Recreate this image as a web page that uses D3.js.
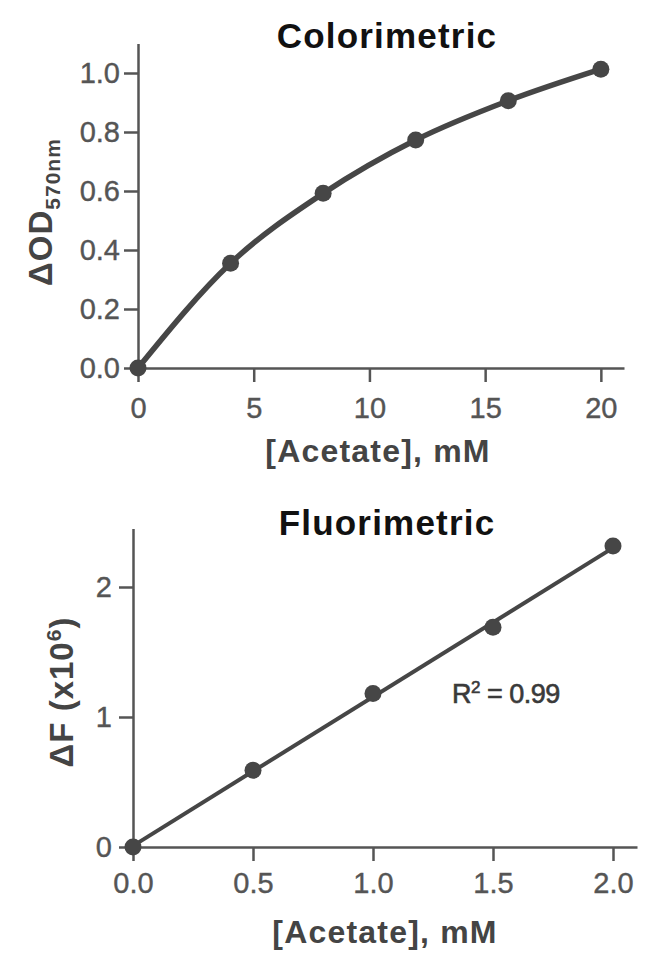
<!DOCTYPE html>
<html>
<head>
<meta charset="utf-8">
<script src="https://cdn.jsdelivr.net/npm/d3@7"></script>
<style>
  body { margin: 0; background: #fff; }
  svg { display: block; font-family: "Liberation Sans", Arial, sans-serif; }
</style>
</head>
<body>
<main></main>
<script>
// Colorimetric standard curve
let colorX = [0, 4, 8, 12, 16, 20]
let colorY = [0, 0.355, 0.592, 0.773, 0.906, 1.013]
let colorXTicks = [0, 5, 10, 15, 20]
let colorYTicks = [0, 0.2, 0.4, 0.6, 0.8, 1.0]

// Fluorimetric standard curve
let fluoroX = [0, 0.5, 1.0, 1.5, 2.0]
let fluoroY = [0, 0.59, 1.18, 1.69, 2.315]
let fluoroXTicks = [0, 0.5, 1.0, 1.5, 2.0]
let fluoroYTicks = [0, 1, 2]

let ink = '#464646'
let axisGrey = '#555'

let svg = d3.select('main').append('svg')
    .attr('width', 650)
    .attr('height', 963)

function panel(opt)
{
    let g = svg.append('g')

    let x = d3.scaleLinear().domain(opt.xDomain).range(opt.xRange)
    let y = d3.scaleLinear().domain(opt.yDomain).range(opt.yRange)

    g.append('g')
        .attr('transform', `translate(0,${y(0)})`)
        .call(d3.axisBottom(x)
            .tickValues(opt.xTicks)
            .tickFormat(opt.xFormat)
            .tickSize(14)
            .tickPadding(opt.xPad)
            .tickSizeOuter(0))

    g.append('g')
        .attr('transform', `translate(${x(0)},0)`)
        .call(d3.axisLeft(y)
            .tickValues(opt.yTicks)
            .tickFormat(opt.yFormat)
            .tickSize(14)
            .tickPadding(opt.yPad)
            .tickSizeOuter(0))

    g.selectAll('.domain, .tick line')
        .attr('stroke', axisGrey)
        .attr('stroke-width', 2.5)
    g.selectAll('.tick text')
        .attr('fill', axisGrey)
        .attr('stroke', axisGrey)
        .attr('stroke-width', 0.4)
        .style('font-size', '29px')

    // the line or fitted curve
    g.append('path')
        .datum(opt.line)
        .attr('d', d3.line().x(d => x(d[0])).y(d => y(d[1])).curve(opt.curve))
        .attr('fill', 'none')
        .attr('stroke', ink)
        .attr('stroke-width', opt.lineWidth)

    g.selectAll('circle')
        .data(opt.xs)
        .enter().append('circle')
        .attr('cx', d => x(d))
        .attr('cy', (d, i) => y(opt.ys[i]))
        .attr('r', 8.5)
        .attr('fill', ink)

    g.append('text')
        .attr('x', 387)
        .attr('y', opt.titleY)
        .attr('text-anchor', 'middle')
        .attr('fill', '#111')
        .style('font-size', '35px')
        .style('font-weight', 'bold')
        .style('letter-spacing', '1.2px')
        .text(opt.title)

    g.append('text')
        .attr('x', opt.xLabelX)
        .attr('y', opt.xLabelY)
        .attr('text-anchor', 'middle')
        .attr('fill', '#444')
        .style('font-size', '32px')
        .style('font-weight', 'bold')
        .style('letter-spacing', '1.2px')
        .text('[Acetate], mM')

    let yl = g.append('text')
        .attr('transform', `translate(${opt.yLabelX},${opt.yLabelY}) rotate(-90)`)
        .attr('text-anchor', 'middle')
        .attr('fill', '#444')
        .style('font-size', '33px')
        .style('font-weight', 'bold')
        .style('letter-spacing', '1px')
    opt.yLabel(yl)

    return { g: g, x: x, y: y }
}

// top: smooth curve through the standards
panel({
    xDomain: [0, 21], xRange: [138, 624],
    yDomain: [0, 1.1], yRange: [368, 43.5],
    xTicks: colorXTicks, yTicks: colorYTicks,
    xFormat: d3.format('d'), yFormat: d3.format('.1f'),
    xPad: 15, yPad: 4,
    xs: colorX, ys: colorY,
    line: colorX.map((d, i) => [d, colorY[i]]),
    curve: d3.curveMonotoneX,
    lineWidth: 5.5,
    title: 'Colorimetric', titleY: 48,
    xLabelX: 378, xLabelY: 462,
    yLabelX: 52, yLabelY: 212,
    yLabel: t => {
        t.append('tspan').text('ΔOD')
        t.append('tspan').attr('dy', 8).style('font-size', '21px').text('570nm')
    }
})

// bottom: least squares line
let mx = d3.mean(fluoroX)
let my = d3.mean(fluoroY)
let slope = d3.sum(fluoroX, (d, i) => (d - mx) * (fluoroY[i] - my)) / d3.sum(fluoroX, d => (d - mx) * (d - mx))
let icpt = my - slope * mx
let xEnds = d3.extent(fluoroX)

let bottom = panel({
    xDomain: [0, 2.1], xRange: [133, 637],
    yDomain: [0, 2.45], yRange: [847, 528.5],
    xTicks: fluoroXTicks, yTicks: fluoroYTicks,
    xFormat: d3.format('.1f'), yFormat: d3.format('d'),
    xPad: 11, yPad: 7,
    xs: fluoroX, ys: fluoroY,
    line: xEnds.map(d => [d, icpt + slope * d]),
    curve: d3.curveLinear,
    lineWidth: 4,
    title: 'Fluorimetric', titleY: 535,
    xLabelX: 385, xLabelY: 943,
    yLabelX: 73, yLabelY: 692,
    yLabel: t => {
        t.append('tspan').text('ΔF (x10')
        t.append('tspan').attr('dy', -12).style('font-size', '21px').text('6')
        t.append('tspan').attr('dy', 12).text(')')
    }
})

let r2 = bottom.g.append('text')
    .attr('x', 452)
    .attr('y', 703)
    .attr('fill', '#3a3a3a')
    .attr('stroke', '#3a3a3a')
    .attr('stroke-width', 0.6)
    .style('font-size', '27px')
    .style('letter-spacing', '-0.5px')
r2.append('tspan').text('R')
r2.append('tspan').attr('dy', -10).style('font-size', '17px').text('2')
r2.append('tspan').attr('dy', 10).text(' = 0.99')
</script>
</body>
</html>
